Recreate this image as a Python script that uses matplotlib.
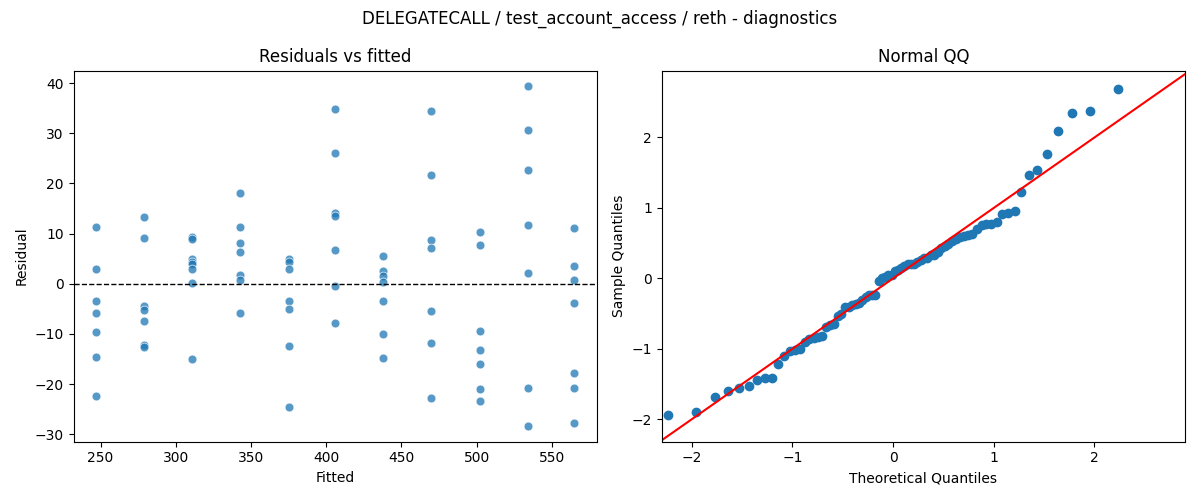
import matplotlib
matplotlib.use("Agg")
import matplotlib.pyplot as plt
import numpy as np
from statistics import NormalDist

# fitted level for each group and the residuals
fitted_levels = [247, 279, 311, 343, 375, 406, 438, 470, 502, 534, 565]
residual_groups = [
    [11.4, 3.0, -3.4, -5.8, -9.6, -14.6, -22.3],
    [13.4, 9.2, -4.4, -5.2, -7.4, -12.2, -12.6],
    [9.4, 9.0, 5.0, 4.4, 4.0, 3.0, 0.2, -15.0],
    [18.0, 11.4, 8.2, 6.4, 1.8, 0.8, -5.8],
    [5.0, 4.4, 3.0, -3.4, -5.0, -12.4, -24.6],
    [34.9, 26.0, 14.2, 13.6, 6.8, -0.4, -7.8],
    [5.6, 2.6, 1.6, 0.4, -3.4, -10.0, -14.8],
    [34.5, 21.6, 8.8, 7.2, -5.4, -11.8, -22.7],
    [10.4, 7.8, -9.4, -13.2, -16.0, -21.0, -23.4],
    [39.5, 30.7, 22.7, 11.8, 2.2, -20.7, -28.3],
    [11.2, 3.6, 0.8, -3.8, -17.8, -20.7, -27.7],
]

fitted = np.concatenate([[f] * len(g) for f, g in zip(fitted_levels, residual_groups)])
resid = np.concatenate(residual_groups)

fig, (ax1, ax2) = plt.subplots(1, 2, figsize=(12, 5), dpi=100)
fig.suptitle("DELEGATECALL / test_account_access / reth - diagnostics")

ax1.scatter(fitted, resid, color="#1f77b4", alpha=0.75, edgecolors="white", linewidths=0.6, s=40)
ax1.axhline(0, color="black", linestyle="--", linewidth=1)
ax1.set_xlim(232, 580)
ax1.set_ylim(-31.5, 42.5)
ax1.set_xlabel("Fitted")
ax1.set_ylabel("Residual")
ax1.set_title("Residuals vs fitted")

# normal QQ of standardized residuals
z = np.sort((resid - resid.mean()) / resid.std(ddof=1))
n = len(z)
nd = NormalDist()
theo = np.array([nd.inv_cdf(i / (n + 1)) for i in range(1, n + 1)])
ax2.plot(theo, z, "o", color="#1f77b4", markersize=6)
ax2.set_xlim(-2.3, 2.9)
ax2.set_ylim(-2.32, 2.95)
ax2.plot([-3, 3], [-3, 3], color="red")
ax2.set_xlabel("Theoretical Quantiles")
ax2.set_ylabel("Sample Quantiles")
ax2.set_title("Normal QQ")

plt.tight_layout()
plt.savefig("out.png")
